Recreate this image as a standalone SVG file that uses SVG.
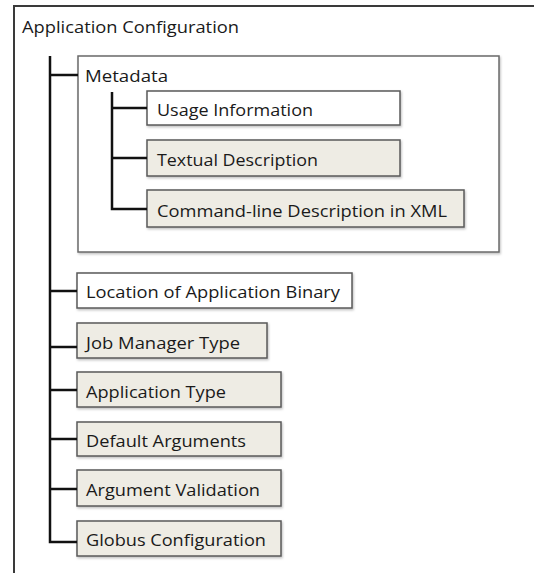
<svg xmlns="http://www.w3.org/2000/svg" width="534" height="573" viewBox="0 0 534 573">
<defs>
<filter id="sh" x="-5%" y="-20%" width="110%" height="150%">
<feDropShadow dx="1" dy="1.5" stdDeviation="1" flood-color="#000" flood-opacity="0.25"/>
</filter>
</defs>
<style>
text{font-family:"Open Sans","Noto Sans","Liberation Sans",sans-serif;font-size:17px;fill:#1a1a1a}
.box{stroke:#5a5a5a;stroke-width:1.5;filter:url(#sh)}
.w{fill:#ffffff}
.b{fill:#eeece4}
.frame{fill:none;stroke:#3a3a3a;stroke-width:2}
.meta{fill:#ffffff;stroke:#6a6a6a;stroke-width:1.5;filter:url(#sh)}
.c{fill:none;stroke:#111;stroke-width:2.5}
</style>
<rect width="534" height="573" fill="#ffffff"/>
<g id="frame">
<path class="frame" d="M534,6 H14 V573"/>
<text x="22" y="33" textLength="217" lengthAdjust="spacingAndGlyphs">Application Configuration</text>
</g>
<g id="metadata">
<rect class="meta" x="78" y="56" width="421" height="196"/>
<text x="85" y="82" textLength="83" lengthAdjust="spacingAndGlyphs">Metadata</text>
</g>
<g id="usage">
<rect class="box w" x="147" y="91" width="253" height="34"/>
<text x="157" y="116" textLength="156" lengthAdjust="spacingAndGlyphs">Usage Information</text>
</g>
<g id="textual">
<rect class="box b" x="147" y="140" width="253" height="36"/>
<text x="157" y="166" textLength="161" lengthAdjust="spacingAndGlyphs">Textual Description</text>
</g>
<g id="cmdline">
<rect class="box b" x="147" y="190" width="317" height="37"/>
<text x="157" y="217" textLength="290" lengthAdjust="spacingAndGlyphs">Command-line Description in XML</text>
</g>
<g id="location">
<rect class="box w" x="77" y="273" width="275" height="35"/>
<text x="86" y="298" textLength="254" lengthAdjust="spacingAndGlyphs">Location of Application Binary</text>
</g>
<g id="jobmanager">
<rect class="box b" x="77" y="323" width="190" height="35"/>
<text x="86" y="349" textLength="154" lengthAdjust="spacingAndGlyphs">Job Manager Type</text>
</g>
<g id="apptype">
<rect class="box b" x="77" y="372" width="204" height="35"/>
<text x="86" y="398" textLength="140" lengthAdjust="spacingAndGlyphs">Application Type</text>
</g>
<g id="defaultargs">
<rect class="box b" x="77" y="422" width="204" height="34"/>
<text x="86" y="447" textLength="160" lengthAdjust="spacingAndGlyphs">Default Arguments</text>
</g>
<g id="argvalidation">
<rect class="box b" x="77" y="470" width="204" height="36"/>
<text x="86" y="496" textLength="174" lengthAdjust="spacingAndGlyphs">Argument Validation</text>
</g>
<g id="globus">
<rect class="box b" x="77" y="521" width="204" height="35"/>
<text x="86" y="546" textLength="180" lengthAdjust="spacingAndGlyphs">Globus Configuration</text>
</g>
<g id="connectors">
<path class="c" d="M50,56 V542 H77"/>
<path class="c" d="M50,75 H78"/>
<path class="c" d="M50,291 H77"/>
<path class="c" d="M50,347 H77"/>
<path class="c" d="M50,390 H77"/>
<path class="c" d="M50,439 H77"/>
<path class="c" d="M50,489 H77"/>
<path class="c" d="M112,92 V209 H147"/>
<path class="c" d="M112,108 H147"/>
<path class="c" d="M112,158 H147"/>
</g>
</svg>
